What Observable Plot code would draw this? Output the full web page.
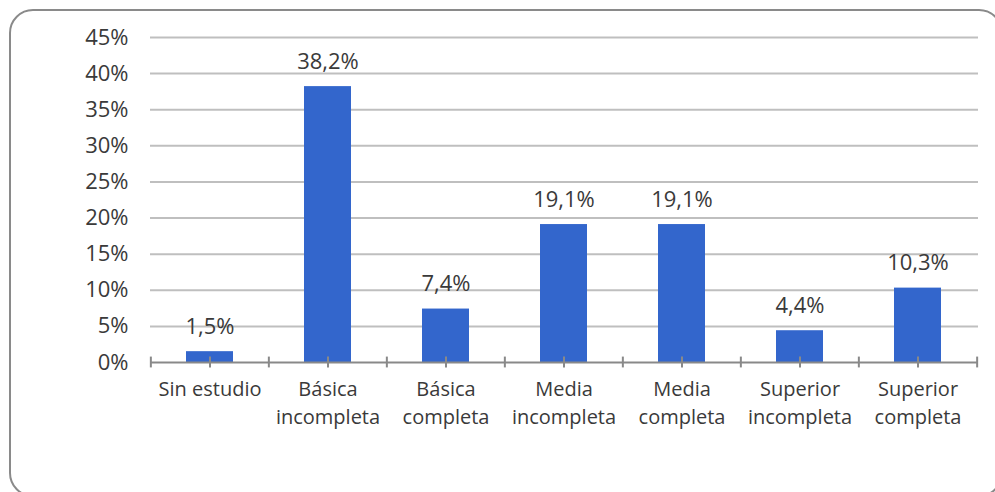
<!DOCTYPE html>
<html>
<head>
<meta charset="utf-8">
<script src="https://cdn.jsdelivr.net/npm/d3@7"></script>
<script src="https://cdn.jsdelivr.net/npm/@observablehq/plot@0.6"></script>
<style>
  html, body { margin: 0; padding: 0; overflow: hidden; background: #fff; width: 995px; height: 492px; }
  #wrap { position: relative; width: 995px; height: 492px; overflow: hidden; }
  #frame { position: absolute; left: 9px; top: 9px; width: 990px; height: 484px; border: 2px solid #8a8a8a; border-radius: 24px; pointer-events: none; }
  svg { position: absolute; left: 0; top: 0; }
</style>
</head>
<body>
<div id="wrap"><div id="frame"></div></div>
<script>
const categories = ["Sin estudio", "Básica incompleta", "Básica completa", "Media incompleta", "Media completa", "Superior incompleta", "Superior completa"];
const categoryLabels = ["Sin estudio", "Básica\nincompleta", "Básica\ncompleta", "Media\nincompleta", "Media\ncompleta", "Superior\nincompleta", "Superior\ncompleta"];
const values = [1.5, 38.2, 7.4, 19.1, 19.1, 4.4, 10.3];
const valueLabels = ["1,5%", "38,2%", "7,4%", "19,1%", "19,1%", "4,4%", "10,3%"];
const yTicks = [0, 5, 10, 15, 20, 25, 30, 35, 40, 45];

const data = categories.map((c, i) => ({category: c, value: values[i], label: valueLabels[i]}));
const labelOf = new Map(categories.map((c, i) => [c, categoryLabels[i]]));

const W = 995, H = 492, ML = 150, MR = 17, MT = 37, MB = 130;
const step = (W - ML - MR) / categories.length;
const font = "'Open Sans', sans-serif";
const txt = "#3a3a3a";

const chart = Plot.plot({
  width: W, height: H,
  marginLeft: ML, marginRight: MR, marginTop: MT, marginBottom: MB,
  style: {fontFamily: font, fontSize: "20px", color: txt, background: "transparent", overflow: "visible"},
  x: {domain: categories, paddingInner: 0.6, paddingOuter: 0.3, axis: null},
  y: {domain: [0, 45], axis: null},
  marks: [
    Plot.ruleY(yTicks.filter(d => d > 0), {stroke: "#bfbfbf", strokeWidth: 2}),
    Plot.barY(data, {x: "category", y: "value", fill: "#3366cc"}),
    Plot.ruleY([0], {stroke: "#898989", strokeWidth: 2}),
    Plot.ruleX(categories, {x: d => d, y1: -0.75, y2: 0.75, stroke: "#898989", strokeWidth: 2}),
    Plot.ruleX(categories, {x: d => d, y1: -0.75, y2: 0.75, dx: -step / 2, stroke: "#898989", strokeWidth: 2}),
    Plot.ruleX(categories.slice(-1), {x: d => d, y1: -0.75, y2: 0.75, dx: step / 2, stroke: "#898989", strokeWidth: 2}),
    Plot.text(data, {x: "category", y: "value", text: "label", dy: -25, fill: txt, fontSize: 22, lineAnchor: "middle"}),
    Plot.axisY({ticks: yTicks, tickSize: 0, tickPadding: 22, tickFormat: d => d + "%", fontSize: 22, fill: txt, label: null}),
    Plot.axisX({tickSize: 0, tickPadding: 14, tickFormat: d => labelOf.get(d), lineHeight: 1.4, fontSize: 20, fill: txt, label: null})
  ]
});
document.getElementById("wrap").prepend(chart);
</script>
</body>
</html>
